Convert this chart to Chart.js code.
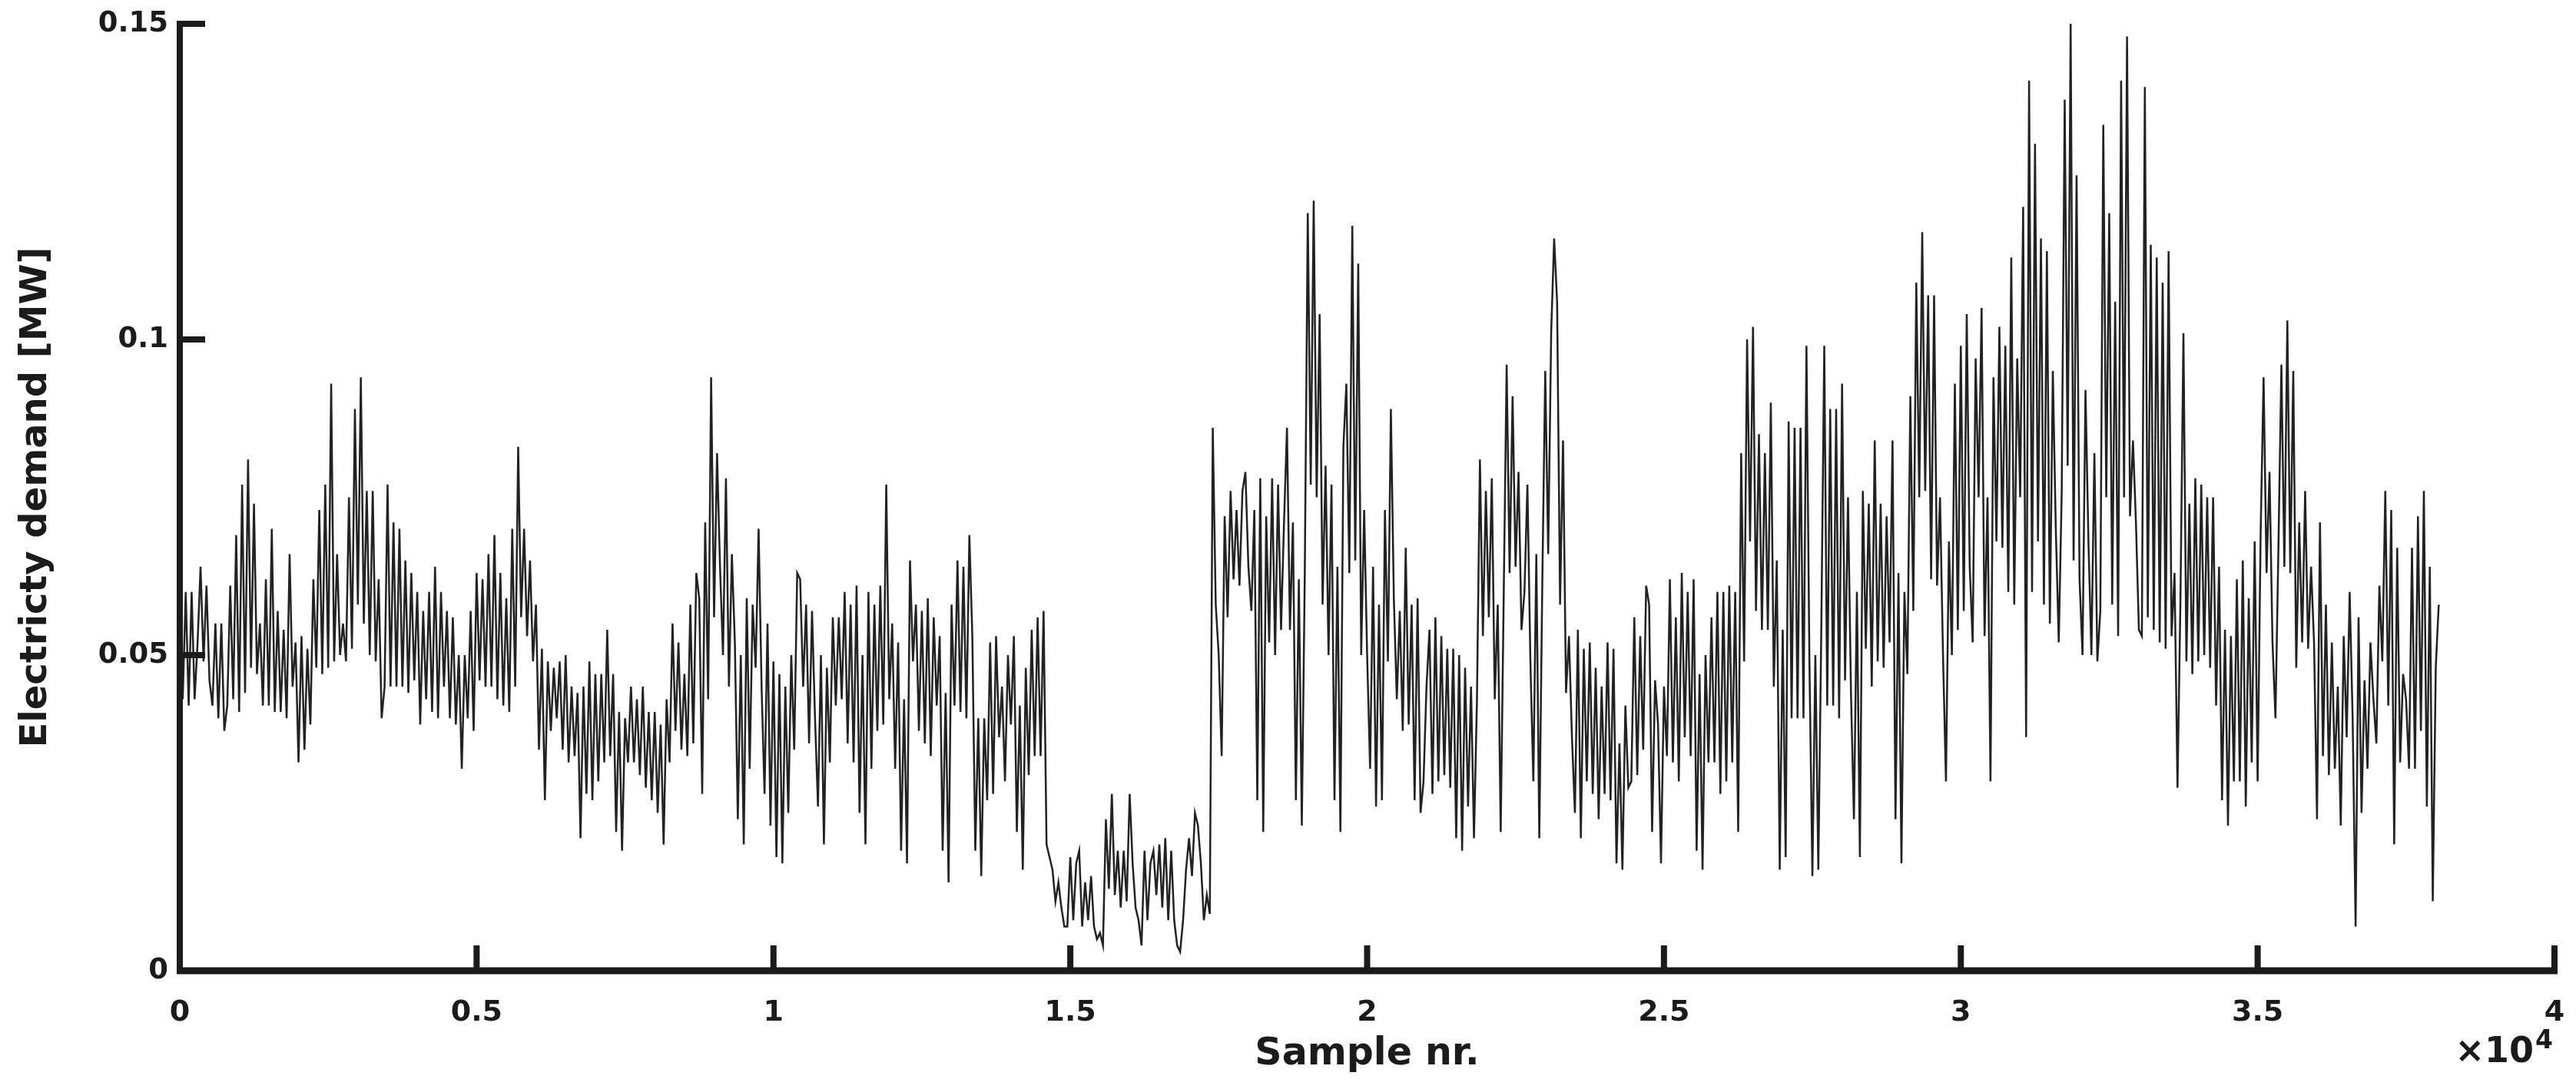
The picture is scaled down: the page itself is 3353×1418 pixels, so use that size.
<!DOCTYPE html>
<html>
<head>
<meta charset="utf-8">
<script src="https://cdn.jsdelivr.net/npm/chart.js@4.4.0/dist/chart.umd.min.js"></script>
<style>
  html, body { margin: 0; padding: 0; background: #ffffff; }
  #wrap { width: 3353px; height: 1418px; }
</style>
</head>
<body>
<div id="wrap"><canvas id="demandChart" width="3353" height="1418"></canvas></div>
<script>
// tick labels (x axis is shown in units of 10^4 samples)
var xTickLabels = ['0', '0.5', '1', '1.5', '2', '2.5', '3', '3.5', '4'];
var yTickLabels = ['0', '0.05', '0.1', '0.15'];

// one reading every 50 samples, values in MW
var sampleStep = 50;
var demand = [
  // 0 - 3400
  0.060, 0.043, 0.060, 0.042, 0.060, 0.043, 0.052, 0.064, 0.049, 0.061,
  0.046, 0.042, 0.055, 0.040, 0.055, 0.038, 0.042, 0.061, 0.043, 0.069,
  0.041, 0.077, 0.044, 0.081, 0.048, 0.074, 0.047, 0.055, 0.042, 0.062,
  0.042, 0.070, 0.041, 0.057, 0.041, 0.054, 0.040, 0.066, 0.045, 0.052,
  0.033, 0.053, 0.035, 0.051, 0.039, 0.062, 0.048, 0.073, 0.047, 0.077,
  0.048, 0.093, 0.049, 0.066, 0.050, 0.055, 0.049, 0.075, 0.051, 0.089,
  0.058, 0.094, 0.055, 0.076, 0.050, 0.076, 0.049, 0.062, 0.040,
  // 3450 - 6900
  0.045, 0.077, 0.045, 0.071, 0.045, 0.070, 0.045, 0.065, 0.044, 0.063,
  0.046, 0.060, 0.039, 0.057, 0.043, 0.060, 0.041, 0.064, 0.040, 0.060,
  0.045, 0.057, 0.040, 0.056, 0.039, 0.050, 0.032, 0.050, 0.040, 0.057,
  0.038, 0.063, 0.046, 0.062, 0.045, 0.066, 0.045, 0.069, 0.043, 0.063,
  0.042, 0.059, 0.041, 0.070, 0.045, 0.083, 0.056, 0.070, 0.053, 0.065,
  0.049, 0.058, 0.035, 0.051, 0.027, 0.049, 0.038, 0.048, 0.040, 0.049,
  0.035, 0.050, 0.033, 0.045, 0.034, 0.044, 0.021, 0.045, 0.028, 0.049,
  // 6950 - 10400
  0.027, 0.047, 0.030, 0.047, 0.033, 0.054, 0.034, 0.047, 0.022, 0.041,
  0.019, 0.040, 0.033, 0.045, 0.033, 0.043, 0.031, 0.045, 0.029, 0.041,
  0.027, 0.041, 0.025, 0.039, 0.020, 0.043, 0.033, 0.055, 0.038, 0.052,
  0.035, 0.047, 0.034, 0.058, 0.036, 0.063, 0.059, 0.028, 0.071, 0.043,
  0.094, 0.056, 0.082, 0.064, 0.050, 0.078, 0.045, 0.066, 0.052, 0.024,
  0.050, 0.020, 0.059, 0.032, 0.058, 0.048, 0.070, 0.045, 0.028, 0.055,
  0.023, 0.049, 0.018, 0.047, 0.017, 0.045, 0.025, 0.050, 0.035, 0.063,
  // 10450 - 13900
  0.062, 0.045, 0.058, 0.036, 0.057, 0.040, 0.026, 0.050, 0.020, 0.048,
  0.033, 0.056, 0.042, 0.056, 0.043, 0.060, 0.036, 0.058, 0.033, 0.061,
  0.025, 0.050, 0.020, 0.060, 0.032, 0.058, 0.038, 0.061, 0.039, 0.077,
  0.043, 0.055, 0.032, 0.052, 0.019, 0.043, 0.017, 0.065, 0.049, 0.058,
  0.038, 0.057, 0.036, 0.059, 0.034, 0.056, 0.042, 0.053, 0.019, 0.044,
  0.014, 0.058, 0.042, 0.065, 0.041, 0.064, 0.040, 0.069, 0.053, 0.019,
  0.040, 0.015, 0.040, 0.027, 0.052, 0.028, 0.053, 0.037, 0.045, 0.030,
  // 13950 - 17400
  0.050, 0.039, 0.053, 0.022, 0.042, 0.016, 0.048, 0.031, 0.054, 0.034,
  0.056, 0.034, 0.057, 0.020, 0.018, 0.016, 0.011, 0.014, 0.010, 0.007,
  0.007, 0.018, 0.008, 0.017, 0.019, 0.007, 0.014, 0.008, 0.015, 0.007,
  0.005, 0.006, 0.004, 0.024, 0.013, 0.028, 0.012, 0.019, 0.010, 0.019,
  0.011, 0.028, 0.017, 0.010, 0.008, 0.004, 0.019, 0.008, 0.017, 0.019,
  0.012, 0.020, 0.010, 0.021, 0.008, 0.019, 0.008, 0.004, 0.003, 0.008,
  0.016, 0.021, 0.015, 0.025, 0.023, 0.017, 0.008, 0.012, 0.009, 0.086,
  // 17450 - 20900
  0.058, 0.050, 0.034, 0.072, 0.056, 0.076, 0.062, 0.073, 0.061, 0.076,
  0.079, 0.064, 0.057, 0.073, 0.027, 0.078, 0.022, 0.072, 0.052, 0.078,
  0.050, 0.077, 0.054, 0.071, 0.086, 0.054, 0.071, 0.027, 0.062, 0.023,
  0.063, 0.120, 0.077, 0.122, 0.075, 0.104, 0.058, 0.080, 0.050, 0.077,
  0.027, 0.064, 0.022, 0.083, 0.093, 0.063, 0.118, 0.065, 0.112, 0.050,
  0.073, 0.050, 0.032, 0.064, 0.026, 0.058, 0.027, 0.073, 0.049, 0.089,
  0.059, 0.043, 0.057, 0.038, 0.067, 0.039, 0.058, 0.027, 0.059, 0.025,
  // 20950 - 24400
  0.030, 0.045, 0.054, 0.028, 0.056, 0.030, 0.053, 0.031, 0.051, 0.029,
  0.051, 0.021, 0.050, 0.019, 0.048, 0.026, 0.045, 0.021, 0.043, 0.081,
  0.053, 0.076, 0.056, 0.078, 0.043, 0.058, 0.022, 0.059, 0.096, 0.063,
  0.091, 0.064, 0.079, 0.054, 0.060, 0.077, 0.049, 0.030, 0.066, 0.021,
  0.061, 0.095, 0.066, 0.101, 0.116, 0.106, 0.058, 0.084, 0.044, 0.053,
  0.037, 0.025, 0.054, 0.021, 0.051, 0.030, 0.052, 0.028, 0.048, 0.024,
  0.045, 0.028, 0.052, 0.027, 0.051, 0.017, 0.036, 0.016, 0.042, 0.029,
  // 24450 - 27850
  0.030, 0.056, 0.031, 0.053, 0.035, 0.061, 0.058, 0.022, 0.046, 0.039,
  0.017, 0.045, 0.034, 0.062, 0.033, 0.056, 0.030, 0.063, 0.037, 0.060,
  0.034, 0.062, 0.019, 0.047, 0.016, 0.050, 0.033, 0.056, 0.033, 0.060,
  0.028, 0.060, 0.030, 0.061, 0.033, 0.060, 0.022, 0.082, 0.049, 0.100,
  0.068, 0.102, 0.057, 0.085, 0.054, 0.082, 0.054, 0.090, 0.045, 0.065,
  0.016, 0.054, 0.018, 0.087, 0.040, 0.086, 0.040, 0.086, 0.040, 0.099,
  0.049, 0.015, 0.050, 0.016, 0.054, 0.099, 0.042, 0.089, 0.042,
  // 27900 - 31350
  0.089, 0.040, 0.093, 0.046, 0.075, 0.044, 0.024, 0.060, 0.018, 0.076,
  0.051, 0.074, 0.045, 0.084, 0.049, 0.074, 0.048, 0.072, 0.052, 0.084,
  0.024, 0.063, 0.017, 0.060, 0.047, 0.091, 0.057, 0.109, 0.075, 0.117,
  0.076, 0.107, 0.062, 0.107, 0.061, 0.075, 0.050, 0.030, 0.068, 0.050,
  0.093, 0.054, 0.099, 0.057, 0.104, 0.064, 0.052, 0.097, 0.075, 0.105,
  0.053, 0.075, 0.030, 0.094, 0.068, 0.102, 0.067, 0.099, 0.060, 0.113,
  0.058, 0.097, 0.075, 0.121, 0.037, 0.141, 0.060, 0.131, 0.068, 0.116,
  // 31400 - 34850
  0.058, 0.114, 0.055, 0.095, 0.070, 0.052, 0.076, 0.138, 0.080, 0.150,
  0.065, 0.126, 0.062, 0.050, 0.092, 0.068, 0.050, 0.082, 0.049, 0.057,
  0.134, 0.075, 0.120, 0.058, 0.106, 0.053, 0.141, 0.075, 0.148, 0.072,
  0.084, 0.071, 0.054, 0.053, 0.140, 0.056, 0.115, 0.054, 0.113, 0.052,
  0.109, 0.051, 0.114, 0.053, 0.063, 0.029, 0.059, 0.101, 0.049, 0.074,
  0.047, 0.078, 0.049, 0.077, 0.050, 0.075, 0.048, 0.075, 0.042, 0.064,
  0.027, 0.054, 0.023, 0.053, 0.030, 0.062, 0.030, 0.065, 0.026, 0.059,
  // 34900 - 38050
  0.033, 0.068, 0.030, 0.069, 0.094, 0.063, 0.079, 0.052, 0.040, 0.067,
  0.096, 0.064, 0.103, 0.063, 0.095, 0.048, 0.071, 0.052, 0.076, 0.051,
  0.064, 0.052, 0.024, 0.071, 0.034, 0.058, 0.031, 0.052, 0.032, 0.045,
  0.023, 0.053, 0.037, 0.060, 0.040, 0.007, 0.056, 0.025, 0.046, 0.032,
  0.052, 0.043, 0.036, 0.061, 0.049, 0.076, 0.042, 0.073,
  0.020, 0.067, 0.033, 0.047, 0.043, 0.032, 0.067, 0.032, 0.072, 0.038,
  0.076, 0.026, 0.064, 0.011, 0.048, 0.058
];

var points = demand.map(function (v, i) {
    return { x: i * sampleStep, y: v };
});

var ink = '#1b1b1b';
var fontFamily = "'DejaVu Sans', 'Liberation Sans', sans-serif";

// MATLAB-style axes: thick axis lines, ticks pointing inward, ×10^4 multiplier
var axesPlugin = {
    id: 'matlabAxes',
    afterDraw: function (chart) {
        var ctx = chart.ctx;
        var area = chart.chartArea;
        var xs = chart.scales.x;
        var ys = chart.scales.y;
        ctx.save();
        ctx.strokeStyle = ink;
        ctx.lineCap = 'butt';

        ctx.lineWidth = 8;
        ctx.beginPath();
        ctx.moveTo(area.left, area.top - 4);
        ctx.lineTo(area.left, area.bottom);
        ctx.stroke();

        ctx.lineWidth = 9;
        ctx.beginPath();
        ctx.moveTo(area.left - 4, area.bottom);
        ctx.lineTo(area.right + 4, area.bottom);
        ctx.stroke();

        ctx.lineWidth = 8;
        ctx.beginPath();
        xs.ticks.forEach(function (t) {
            var px = xs.getPixelForValue(t.value);
            ctx.moveTo(px, area.bottom);
            ctx.lineTo(px, area.bottom - 33);
        });
        ys.ticks.forEach(function (t) {
            var py = ys.getPixelForValue(t.value);
            ctx.moveTo(area.left, py);
            ctx.lineTo(area.left + 33, py);
        });
        ctx.stroke();

        ctx.fillStyle = ink;
        ctx.textAlign = 'right';
        ctx.textBaseline = 'alphabetic';
        ctx.font = 'bold 33px ' + fontFamily;
        ctx.fillText('4', area.right - 2, 1365);
        var supWidth = ctx.measureText('4').width;
        ctx.font = 'bold 46px ' + fontFamily;
        ctx.fillText('\u00d710', area.right - 4 - supWidth, 1383);
        ctx.restore();
    }
};

var ctx = document.getElementById('demandChart').getContext('2d');
var demandChart = new Chart(ctx, {
    type: 'line',
    data: {
        datasets: [{
            label: 'Electricity demand',
            data: points,
            borderColor: '#222222',
            borderWidth: 2.5,
            pointRadius: 0,
            tension: 0,
            fill: false
        }]
    },
    options: {
        responsive: false,
        animation: false,
        devicePixelRatio: 1,
        layout: { padding: { left: 0, top: 31, right: 28, bottom: 0 } },
        plugins: {
            legend: { display: false },
            tooltip: { enabled: false }
        },
        scales: {
            x: {
                type: 'linear',
                min: 0,
                max: 40000,
                grid: { display: false, drawTicks: false },
                border: { display: false },
                ticks: {
                    stepSize: 5000,
                    autoSkip: false,
                    maxRotation: 0,
                    padding: 32,
                    color: ink,
                    font: { family: fontFamily, weight: 'bold', size: 38 },
                    callback: function (value, index) { return xTickLabels[index]; }
                },
                title: {
                    display: true,
                    text: 'Sample nr.',
                    color: ink,
                    font: { family: fontFamily, weight: 'bold', size: 49 },
                    padding: { top: 0, bottom: 15 }
                },
                afterFit: function (scale) {
                    scale.height = 154;
                    scale.paddingLeft = 0;
                    scale.paddingRight = 0;
                }
            },
            y: {
                type: 'linear',
                min: 0,
                max: 0.15,
                grid: { display: false, drawTicks: false },
                border: { display: false },
                ticks: {
                    stepSize: 0.05,
                    padding: 15,
                    color: ink,
                    font: { family: fontFamily, weight: 'bold', size: 37 },
                    callback: function (value, index) { return yTickLabels[index]; }
                },
                title: {
                    display: true,
                    text: 'Electricty demand [MW]',
                    color: ink,
                    font: { family: fontFamily, weight: 'bold', size: 48 },
                    padding: { top: 19, bottom: 0 }
                },
                afterFit: function (scale) {
                    scale.width = 234;
                    scale.paddingTop = 0;
                    scale.paddingBottom = 0;
                }
            }
        }
    },
    plugins: [axesPlugin]
});
</script>
</body>
</html>
